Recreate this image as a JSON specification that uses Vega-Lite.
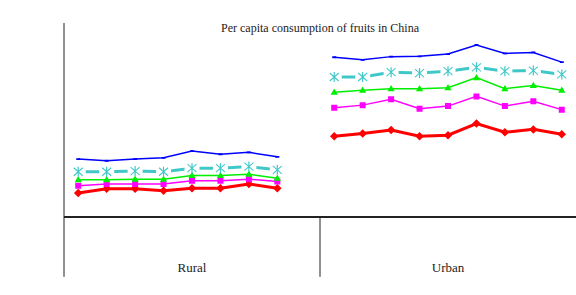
{
"$schema": "https://vega.github.io/schema/vega-lite/v6.json",
"width": 512, "height": 194,
"autosize": {"type": "none"},
"padding": {"left": 64, "top": 23, "right": 0, "bottom": 78},
"background": "white",
"config": {"view": {"stroke": null}, "font": "Liberation Serif"},
"title": {"text": "Per capita consumption of fruits in China", "font": "Liberation Serif", "fontSize": 12, "fontWeight": "normal", "color": "#222", "anchor": "middle", "offset": -12},
"data": {"values": [
{"slot":"R03","area":"Rural","q":"1st Q","v":7.4},{"slot":"R04","area":"Rural","q":"1st Q","v":8.7},{"slot":"R05","area":"Rural","q":"1st Q","v":8.7},{"slot":"R06","area":"Rural","q":"1st Q","v":8.1},{"slot":"R07","area":"Rural","q":"1st Q","v":8.9},{"slot":"R08","area":"Rural","q":"1st Q","v":8.9},{"slot":"R09","area":"Rural","q":"1st Q","v":10.2},{"slot":"R10","area":"Rural","q":"1st Q","v":8.9},
{"slot":"R03","area":"Rural","q":"2nd Q","v":9.7},{"slot":"R04","area":"Rural","q":"2nd Q","v":10.2},{"slot":"R05","area":"Rural","q":"2nd Q","v":10.2},{"slot":"R06","area":"Rural","q":"2nd Q","v":10.2},{"slot":"R07","area":"Rural","q":"2nd Q","v":11.2},{"slot":"R08","area":"Rural","q":"2nd Q","v":11.2},{"slot":"R09","area":"Rural","q":"2nd Q","v":11.7},{"slot":"R10","area":"Rural","q":"2nd Q","v":11.0},
{"slot":"R03","area":"Rural","q":"3rd Q","v":11.5},{"slot":"R04","area":"Rural","q":"3rd Q","v":11.5},{"slot":"R05","area":"Rural","q":"3rd Q","v":11.7},{"slot":"R06","area":"Rural","q":"3rd Q","v":11.7},{"slot":"R07","area":"Rural","q":"3rd Q","v":12.8},{"slot":"R08","area":"Rural","q":"3rd Q","v":12.8},{"slot":"R09","area":"Rural","q":"3rd Q","v":13.2},{"slot":"R10","area":"Rural","q":"3rd Q","v":12.0},
{"slot":"R03","area":"Rural","q":"4th Q","v":14.0},{"slot":"R04","area":"Rural","q":"4th Q","v":14.0},{"slot":"R05","area":"Rural","q":"4th Q","v":14.2},{"slot":"R06","area":"Rural","q":"4th Q","v":14.0},{"slot":"R07","area":"Rural","q":"4th Q","v":15.1},{"slot":"R08","area":"Rural","q":"4th Q","v":15.1},{"slot":"R09","area":"Rural","q":"4th Q","v":15.6},{"slot":"R10","area":"Rural","q":"4th Q","v":14.6},
{"slot":"R03","area":"Rural","q":"5th Q","v":17.9},{"slot":"R04","area":"Rural","q":"5th Q","v":17.4},{"slot":"R05","area":"Rural","q":"5th Q","v":17.9},{"slot":"R06","area":"Rural","q":"5th Q","v":18.3},{"slot":"R07","area":"Rural","q":"5th Q","v":20.4},{"slot":"R08","area":"Rural","q":"5th Q","v":19.4},{"slot":"R09","area":"Rural","q":"5th Q","v":20.0},{"slot":"R10","area":"Rural","q":"5th Q","v":18.6},
{"slot":"U02","area":"Urban","q":"1st Q","v":25.0},{"slot":"U03","area":"Urban","q":"1st Q","v":25.8},{"slot":"U04","area":"Urban","q":"1st Q","v":26.9},{"slot":"U05","area":"Urban","q":"1st Q","v":25.0},{"slot":"U06","area":"Urban","q":"1st Q","v":25.3},{"slot":"U07","area":"Urban","q":"1st Q","v":28.9},{"slot":"U08","area":"Urban","q":"1st Q","v":26.2},{"slot":"U09","area":"Urban","q":"1st Q","v":27.1},{"slot":"U10","area":"Urban","q":"1st Q","v":25.6},
{"slot":"U02","area":"Urban","q":"2nd Q","v":33.8},{"slot":"U03","area":"Urban","q":"2nd Q","v":34.6},{"slot":"U04","area":"Urban","q":"2nd Q","v":36.4},{"slot":"U05","area":"Urban","q":"2nd Q","v":33.5},{"slot":"U06","area":"Urban","q":"2nd Q","v":34.3},{"slot":"U07","area":"Urban","q":"2nd Q","v":37.3},{"slot":"U08","area":"Urban","q":"2nd Q","v":34.3},{"slot":"U09","area":"Urban","q":"2nd Q","v":35.8},{"slot":"U10","area":"Urban","q":"2nd Q","v":33.2},
{"slot":"U02","area":"Urban","q":"3rd Q","v":38.6},{"slot":"U03","area":"Urban","q":"3rd Q","v":39.2},{"slot":"U04","area":"Urban","q":"3rd Q","v":39.7},{"slot":"U05","area":"Urban","q":"3rd Q","v":39.7},{"slot":"U06","area":"Urban","q":"3rd Q","v":40.0},{"slot":"U07","area":"Urban","q":"3rd Q","v":43.1},{"slot":"U08","area":"Urban","q":"3rd Q","v":39.7},{"slot":"U09","area":"Urban","q":"3rd Q","v":40.7},{"slot":"U10","area":"Urban","q":"3rd Q","v":39.2},
{"slot":"U02","area":"Urban","q":"4th Q","v":43.3},{"slot":"U03","area":"Urban","q":"4th Q","v":43.3},{"slot":"U04","area":"Urban","q":"4th Q","v":44.8},{"slot":"U05","area":"Urban","q":"4th Q","v":44.5},{"slot":"U06","area":"Urban","q":"4th Q","v":45.1},{"slot":"U07","area":"Urban","q":"4th Q","v":46.3},{"slot":"U08","area":"Urban","q":"4th Q","v":45.1},{"slot":"U09","area":"Urban","q":"4th Q","v":45.3},{"slot":"U10","area":"Urban","q":"4th Q","v":44.1},
{"slot":"U02","area":"Urban","q":"5th Q","v":49.4},{"slot":"U03","area":"Urban","q":"5th Q","v":48.6},{"slot":"U04","area":"Urban","q":"5th Q","v":49.6},{"slot":"U05","area":"Urban","q":"5th Q","v":49.7},{"slot":"U06","area":"Urban","q":"5th Q","v":50.4},{"slot":"U07","area":"Urban","q":"5th Q","v":53.2},{"slot":"U08","area":"Urban","q":"5th Q","v":50.6},{"slot":"U09","area":"Urban","q":"5th Q","v":50.9},{"slot":"U10","area":"Urban","q":"5th Q","v":47.9}
]},
"layer": [
 {
  "mark": {"type": "line"},
  "encoding": {
   "x": {"field": "slot", "type": "nominal",
    "scale": {"type": "band", "domain": ["R03","R04","R05","R06","R07","R08","R09","R10","gap","U02","U03","U04","U05","U06","U07","U08","U09","U10"], "paddingInner": 0, "paddingOuter": 0},
    "axis": {"orient": "bottom", "title": null, "domain": false, "tickBand": "extent", "tickSize": 30, "tickColor": "#222", "labelAngle": 0, "labelFont": "Liberation Serif", "labelFontSize": 12, "labelColor": "#222", "labelPadding": -15, "labelBaseline": "top", "labelExpr": "datum.value == 'gap' ? '' : slice(datum.value, 1)"}},
   "y": {"field": "v", "type": "quantitative",
    "scale": {"domain": [0, 60], "nice": false},
    "axis": {"tickCount": 6, "grid": false, "domain": false, "tickSize": 5, "tickColor": "#222", "labelPadding": 9, "labelFont": "Liberation Serif", "labelFontSize": 12, "labelColor": "#222", "title": "Per capita consumption, kg", "titleFont": "Liberation Sans", "titleFontSize": 12, "titleFontWeight": "normal", "titleColor": "#222", "titlePadding": 10}},
   "color": {"field": "q", "type": "nominal", "scale": {"domain": ["1st Q","2nd Q","3rd Q","4th Q","5th Q"], "range": ["#ff0000","#ff00ff","#00ee00","#40c8c8","#0000ff"]}, "legend": null},
   "strokeWidth": {"condition": {"test": "datum.q == '1st Q' || datum.q == '4th Q'", "value": 3}, "value": 1.5},
   "detail": {"field": "area", "type": "nominal"}
  }
 },
 {
  "mark": {"type": "rule", "color": "#222", "strokeWidth": 1},
  "encoding": {"y": {"datum": 0}}
 },
 {
  "data": {"values": [{"slot": "R03"}]},
  "mark": {"type": "rule", "color": "#222", "strokeWidth": 1},
  "encoding": {
   "x": {"field": "slot", "type": "nominal", "bandPosition": 0, "axis": null},
   "y": {"datum": 60},
   "y2": {"datum": -18.5}
  }
 },
 {
  "data": {"values": [{"slot": "U02"}]},
  "mark": {"type": "rule", "color": "#222", "strokeWidth": 1},
  "encoding": {
   "x": {"field": "slot", "type": "nominal", "bandPosition": 0, "axis": null},
   "y": {"datum": 0},
   "y2": {"datum": -18.5}
  }
 },
 {
  "data": {"values": [{"slot": "R07", "label": "Rural"}, {"slot": "U06", "label": "Urban"}]},
  "mark": {"type": "text", "font": "Liberation Serif", "fontSize": 13, "color": "#222", "baseline": "middle"},
  "encoding": {
   "x": {"field": "slot", "type": "nominal", "axis": null},
   "y": {"datum": -15.8},
   "text": {"field": "label"}
  }
 },
 {
  "transform": [{"filter": "datum.q == '4th Q'"}],
  "mark": {"type": "point", "filled": true, "opacity": 1, "color": "white", "size": 100, "shape": "M-1.5,-0.7H1.5V0.7H-1.5Z"},
  "encoding": {
   "x": {"field": "slot", "type": "nominal", "axis": null},
   "y": {"field": "v", "type": "quantitative", "axis": null}
  }
 },
 {
  "mark": {"type": "point", "filled": true, "opacity": 1, "size": 100},
  "encoding": {
   "x": {"field": "slot", "type": "nominal", "axis": null},
   "y": {"field": "v", "type": "quantitative", "axis": null},
   "color": {"field": "q", "type": "nominal", "scale": {"domain": ["1st Q","2nd Q","3rd Q","4th Q","5th Q"], "range": ["#ff0000","#ff00ff","#00ee00","#40c8c8","#0000ff"]},
    "legend": {"orient": "none", "legendX": -1, "legendY": 256, "direction": "horizontal", "columns": 5, "title": null, "labelFont": "Liberation Serif", "labelFontSize": 14, "labelColor": "#222", "symbolSize": 100, "gridAlign": "all", "columnPadding": 30, "labelOffset": 14, "symbolOffset": 10,
     "encode": {"symbols": {"update": {"stroke": {"signal": "datum.value == '1st Q' ? '#ff0000' : datum.value == '2nd Q' ? '#ff00ff' : datum.value == '3rd Q' ? '#00ee00' : datum.value == '4th Q' ? '#40c8c8' : '#0000ff'"}, "strokeWidth": {"signal": "datum.value == '1st Q' || datum.value == '4th Q' ? 3 : 1.5"}}}}}},
   "shape": {"field": "q", "type": "nominal", "scale": {"domain": ["1st Q","2nd Q","3rd Q","4th Q","5th Q"], "range": [
    "M-3,0H3M0,-0.85L0.85,0L0,0.85L-0.85,0Z",
    "M-3,0H3M-0.6,-0.6V0.6H0.6V-0.6Z",
    "M-3,0H3M0,-0.75L-0.72,0.5H0.72Z",
    "M-3,0H-1.3M1.3,0H3M-0.12,-1V1H0.12V-1ZM-0.97,-0.72L0.83,0.88L0.97,0.72L-0.83,-0.88ZM-0.83,0.88L0.97,-0.72L0.83,-0.88L-0.97,0.72Z",
    "M-3,0H3M-0.4,-0.18V0.18H0.4V-0.18Z"]}}
  }
 }
]
}
